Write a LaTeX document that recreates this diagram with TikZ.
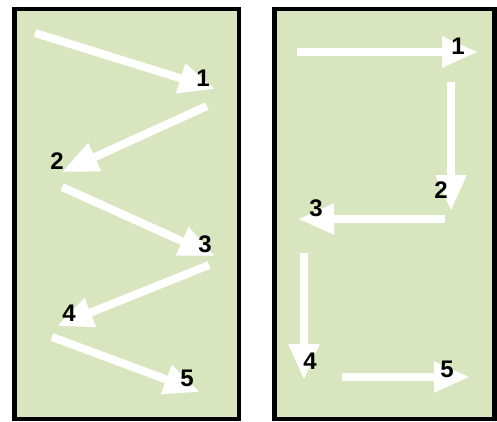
\documentclass[tikz,border=0pt]{standalone}
\usepackage{fontspec}
\setsansfont{Liberation Sans}
\usetikzlibrary{arrows.meta}
\definecolor{panelgreen}{RGB}{217,229,190}
\tikzset{
  panel/.style={draw=black, line width=4.5pt, fill=panelgreen},
  move/.style={white, line width=8pt, -{Triangle[length=36pt,width=29pt]}},
  num/.style={inner sep=0pt, font=\sffamily\bfseries\fontsize{24}{24}\selectfont}
}

\begin{document}
\begin{tikzpicture}[x=1pt,y=-1pt]
        \useasboundingbox (0,0) rectangle (497,421);
        \draw[panel] (14.5,9) rectangle (239,419);
        \draw[panel] (274.5,9) rectangle (494.5,419);
        %
        % zigzag order
        \coordinate (ls1) at (35,33);   \coordinate (le1) at (215,89);
        \coordinate (ls2) at (207,106); \coordinate (le2) at (62,172);
        \coordinate (ls3) at (62,187);  \coordinate (le3) at (215,256);
        \coordinate (ls4) at (209,265); \coordinate (le4) at (57,326);
        \coordinate (ls5) at (52,337);  \coordinate (le5) at (200,392);
        \draw[move] (ls1)--(le1);
        \draw[move] (ls2)--(le2);
        \draw[move] (ls3)--(le3);
        \draw[move] (ls4)--(le4);
        \draw[move] (ls5)--(le5);
        \node[num] (l1) at (203,78) {1};
        \node[num] (l2) at (57,161) {2};
        \node[num] (l3) at (205,244) {3};
        \node[num] (l4) at (69,313) {4};
        \node[num] (l5) at (187,378) {5};
        %
        % right-angle order
        \coordinate (rs1) at (297,52);  \coordinate (re1) at (478,52);
        \coordinate (rs2) at (451,82);  \coordinate (re2) at (451,211);
        \coordinate (rs3) at (445,219); \coordinate (re3) at (298,219);
        \coordinate (rs4) at (304,253); \coordinate (re4) at (304,380);
        \coordinate (rs5) at (342,377); \coordinate (re5) at (470,377);
        \draw[move] (rs1)--(re1);
        \draw[move] (rs2)--(re2);
        \draw[move] (rs3)--(re3);
        \draw[move] (rs4)--(re4);
        \draw[move] (rs5)--(re5);
        \node[num] (r1) at (458,46) {1};
        \node[num] (r2) at (441,190) {2};
        \node[num] (r3) at (316,208) {3};
        \node[num] (r4) at (310,361) {4};
        \node[num] (r5) at (447,369) {5};
    \end{tikzpicture}
\end{document}
